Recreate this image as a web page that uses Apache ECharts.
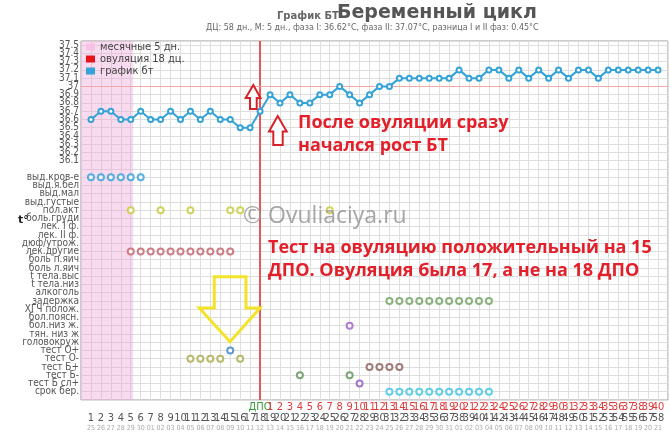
<!DOCTYPE html>
<html><head><meta charset="utf-8">
<script src="https://cdn.jsdelivr.net/npm/echarts@6/dist/echarts.min.js"></script>
<style>html,body{margin:0;padding:0;background:#fff}#c{width:670px;height:438px}</style>
</head><body><div id="c"></div>
<script>
// ---------- DATA ----------
const DAYS = [1,2,3,4,5,6,7,8,9,10,11,12,13,14,15,16,17,18,19,20,21,22,23,24,25,26,27,28,29,30,31,32,33,34,35,36,37,38,39,40,41,42,43,44,45,46,47,48,49,50,51,52,53,54,55,56,57,58];
const TEMPS = [36.6,36.7,36.7,36.6,36.6,36.7,36.6,36.6,36.7,36.6,36.7,36.6,36.7,36.6,36.6,36.5,36.5,36.7,
  36.9,36.8,36.9,36.8,36.8,36.9,36.9,37.0,36.9,36.8,36.9,37.0,37.0,37.1,37.1,37.1,37.1,37.1,37.1,37.2,37.1,37.1,
  37.2,37.2,37.1,37.2,37.1,37.2,37.1,37.2,37.1,37.2,37.2,37.1,37.2,37.2,37.2,37.2,37.2,37.2];
const DPO_LABELS = ['','','','','','','','','','','','','','','','','','ДПО',
  '1','2','3','4','5','6','7','8','9','10','11','12','13','14','15','16','17','18','19','20',
  '21','22','23','24','25','26','27','28','29','30','31','32','33','34','35','36','37','38','39','40'];
const DATE_LABELS = ['25','26','27','28','29','30','01','02','03','04','05','06','07','08','09','10','11','12','13','14','15','16','17','18','19','20','21','22','23','24','25','26','27','28','29','30','31',
  '01','02','03','04','05','06','07','08','09','10','11','12','13','14','15','16','17','18','19','20','21'];
const TEMP_TICKS = [36.1,36.2,36.3,36.4,36.5,36.6,36.7,36.8,36.9,37.0,37.1,37.2,37.3,37.4,37.5];
const TEMP_TICK_LABELS = ['36.1','36.2','36.3','36.4','36.5','36.6','36.7','36.8','36.9','37','37.1','37.2','37.3','37.4','37.5'];
const ROW_LABELS = ['выд.кров-е','выд.я.бел','выд.мал','выд.густые','пол.акт','боль.груди','лек. I ф.','лек. II ф.','дюф/утрож.','лек.другие',
  'боль п.яич','боль л.яич','t тела.выс','t тела.низ','алкоголь','задержка','ХГЧ полож.','бол.поясн.','бол.низ ж.','тян. низ ж',
  'головокруж','тест О+','тест О-','тест Б+','тест Б-','тест Б сл+','срок бер.'];
const MENSES_DAYS = 5;
const OVULATION_DAY = 18;
const COVERLINE = 37.0;

const BLEEDING_DAYS = [1,2,3,4,5,6];
const SEX_DAYS = [5,8,11,15,16,25];
const OTHER_MEDS_DAYS = [5,6,7,8,9,10,11,12,13,14,15];
const DELAY_DAYS = [31,32,33,34,35,36,37,38,39,40,41];
const LOW_PAIN_DAYS = [27];
const OV_POS_DAYS = [15];
const OV_NEG_DAYS = [11,12,13,14,16];
const PREG_POS_DAYS = [29,30,31,32];
const PREG_NEG_DAYS = [22,27];
const PREG_FAINT_DAYS = [28];
const TERM_DAYS = [31,32,33,34,35,36,37,38,39,40,41];

const SYMPTOMS = [
  {row:'выд.кров-е', days:BLEEDING_DAYS, color:'#2d9fd8'},
  {row:'пол.акт', days:SEX_DAYS, color:'#c8c83a'},
  {row:'лек.другие', days:OTHER_MEDS_DAYS, color:'#c0606a'},
  {row:'задержка', days:DELAY_DAYS, color:'#6f9f5f'},
  {row:'бол.низ ж.', days:LOW_PAIN_DAYS, color:'#9d5cc8'},
  {row:'тест О+', days:OV_POS_DAYS, color:'#3c7fc8'},
  {row:'тест О-', days:OV_NEG_DAYS, color:'#a9a948'},
  {row:'тест Б+', days:PREG_POS_DAYS, color:'#8e5a58'},
  {row:'тест Б-', days:PREG_NEG_DAYS, color:'#5f8f56'},
  {row:'тест Б сл+', days:PREG_FAINT_DAYS, color:'#8d55c0'},
  {row:'срок бер.', days:TERM_DAYS, color:'#3cc2e4'}
];

// ---------- CHART ----------
const NARROW = "'Liberation Sans Narrow','DejaVu Sans Condensed',sans-serif";
const GRID_COLOR = '#dedede';
const LABEL_COLOR = '#555';
const chart = echarts.init(document.getElementById('c'), null, {renderer:'canvas'});

function rowLabel(v){
  const r = Math.round(v);
  if (Math.abs(v - r) > 0.01 || r < 1 || r > ROW_LABELS.length) return '';
  return ROW_LABELS[r - 1];
}
function dayLabel(arr){
  return function(v){
    const r = Math.round(v);
    if (Math.abs(v - r) > 0.01) return '';
    const i = DAYS.indexOf(r);
    return i < 0 ? '' : arr[i];
  };
}
const xBase = {type:'value', min:0, max:59, interval:1, gridIndex:0, position:'bottom',
  axisLine:{show:false}, axisTick:{show:false}, splitLine:{show:false}};

const series = [
  {name:'месячные 5 дн.', type:'line', data:[], color:'#f5c2e6', itemStyle:{color:'#f5c2e6'},
   markArea:{silent:true, itemStyle:{color:'rgba(238,160,215,0.38)'}, data:[[{xAxis:0},{xAxis:MENSES_DAYS + 0.25}]]}},
  {name:'овуляция 18 дц.', type:'line', data:[], color:'#e8141c', itemStyle:{color:'#e8141c'},
   markLine:{silent:true, symbol:'none', label:{show:false}, lineStyle:{color:'#e02828', width:1.5, type:'solid'},
     data:[{xAxis:OVULATION_DAY},
           {yAxis:COVERLINE, lineStyle:{color:'#f3a8a8', width:1, type:'solid'}}]}},
  {name:'график бт', type:'line', data:DAYS.map((d,i)=>[d,TEMPS[i]]), color:'#35a2d8',
   symbol:'emptyCircle', symbolSize:5, showAllSymbol:true, z:5,
   itemStyle:{color:'#35a2d8', borderWidth:1.5}, lineStyle:{color:'#35a2d8', width:2}}
];
SYMPTOMS.forEach(s=>{
  const r = ROW_LABELS.indexOf(s.row) + 1;
  series.push({type:'scatter', xAxisIndex:0, yAxisIndex:1, symbol:'emptyCircle', symbolSize:6, z:4,
    itemStyle:{color:s.color, borderWidth:1.6}, data:s.days.map(d=>[d,r])});
});

const option = {
  animation:false,
  backgroundColor:'#fff',
  title:[
    {text:'График БТ', left:277, top:11, padding:0, textStyle:{fontSize:10, fontWeight:'bold', color:'#666', fontFamily:'DejaVu Sans'}},
    {text:'Беременный цикл', left:337, top:4, padding:0, textStyle:{fontSize:19, fontWeight:'bold', color:'#555', fontFamily:'DejaVu Sans'}},
    {text:'ДЦ: 58 дн., М: 5 дн., фаза I: 36.62°С, фаза II: 37.07°С, разница I и II фаз: 0.45°С', left:206, top:24, padding:0,
     textStyle:{fontSize:8, fontWeight:'normal', color:'#666', fontFamily:'DejaVu Sans'}}
  ],
  legend:{orient:'vertical', left:86, top:41.5, padding:0, itemWidth:9, itemHeight:7, itemGap:1, icon:'rect', selectedMode:false,
    textStyle:{fontSize:11, lineHeight:11, fontFamily:NARROW, color:'#444'},
    data:['месячные 5 дн.','овуляция 18 дц.','график бт']},
  grid:{left:81, right:2, top:41, bottom:38, show:true, borderColor:'#999', borderWidth:1, backgroundColor:'transparent', outerBoundsMode:'none'},
  xAxis:[
    Object.assign({}, xBase, {splitLine:{show:true, lineStyle:{color:GRID_COLOR, width:1}},
      axisLabel:{margin:2, fontSize:11, fontFamily:NARROW, color:'#e03a3a',
        formatter:function(v){const s = dayLabel(DPO_LABELS)(v); return s === 'ДПО' ? '{g|ДПО}' : s;},
        rich:{g:{color:'#3a9a3a', fontSize:11, fontFamily:NARROW}}}}),
    Object.assign({}, xBase, {offset:11, axisLabel:{margin:2, fontSize:11, fontFamily:NARROW, color:'#555', formatter:dayLabel(DAYS.map(String))}}),
    Object.assign({}, xBase, {offset:22, axisLabel:{margin:3, fontSize:7, fontFamily:NARROW, color:'#aaa', formatter:dayLabel(DATE_LABELS)}})
  ],
  yAxis:[
    {type:'value', min:33.2, max:37.55, interval:0.1, position:'left', gridIndex:0,
     axisLine:{show:false}, axisTick:{show:false}, splitLine:{show:true, lineStyle:{color:GRID_COLOR, width:1}},
     axisLabel:{show:false}},
    {type:'value', inverse:true, min:-15.5, max:28, interval:0.5, position:'left', gridIndex:0,
     axisLine:{show:false}, axisTick:{show:false}, splitLine:{show:false},
     axisLabel:{margin:2, fontSize:10, fontFamily:NARROW, color:LABEL_COLOR, formatter:rowLabel}}
  ],
  series:series
};
chart.setOption(option);

// Temperature tick labels: real text, positioned through the temperature axis scale.
const gridRect = chart.getModel().getComponent('grid', 0).coordinateSystem.getRect();
const tempLabelGraphics = TEMP_TICKS.map((t, k) => {
  const y = chart.convertToPixel({yAxisIndex:0}, t);
  return {type:'text', x:gridRect.x - 2, y:y, z:50, silent:true,
    style:{text:TEMP_TICK_LABELS[k], font:"10px " + NARROW, fill:LABEL_COLOR, align:'right', verticalAlign:'middle'}};
});

chart.setOption({graphic: tempLabelGraphics.concat([
    {type:'text', x:18, y:220, z:100, style:{text:'t°', font:'bold 11px "DejaVu Sans"', fill:'#222', verticalAlign:'middle'}},
    {type:'polygon', z:100, shape:{points:[[253.3,85],[260.5,98],[256.7,98],[256.7,109],[250,109],[250,98],[245.7,98]]},
     style:{fill:'#fff', stroke:'#d6222a', lineWidth:2}},
    {type:'polygon', z:100, shape:{points:[[277.7,116],[286.7,131.5],[282.7,131.5],[282.7,145],[273.3,145],[273.3,131.5],[269,131.5]]},
     style:{fill:'#fff', stroke:'#d6222a', lineWidth:2}},
    {type:'polygon', z:100, shape:{points:[[214.3,276.7],[246,276.7],[246,308],[260,308],[230,341.7],[199.3,308],[214.3,308]]},
     style:{fill:'none', stroke:'#f3e42a', lineWidth:3}},
    {type:'text', x:243, y:216, z:100, style:{text:'© Ovuliaciya.ru', font:'23px "Open Sans"', fill:'rgba(150,150,150,0.85)', verticalAlign:'middle'}},
    {type:'text', x:298, y:123, z:100, style:{text:'После овуляции сразу', font:'bold 18px "Open Sans"', fill:'#e3202a', verticalAlign:'middle'}},
    {type:'text', x:298, y:146, z:100, style:{text:'начался рост БТ', font:'bold 18px "Open Sans"', fill:'#e3202a', verticalAlign:'middle'}},
    {type:'text', x:268, y:248, z:100, style:{text:'Тест на овуляцию положительный на 15', font:'bold 18px "Open Sans"', fill:'#e3202a', verticalAlign:'middle'}},
    {type:'text', x:268, y:271, z:100, style:{text:'ДПО. Овуляция была 17, а не на 18 ДПО', font:'bold 18px "Open Sans"', fill:'#e3202a', verticalAlign:'middle'}}
  ])});
</script>
</body></html>
